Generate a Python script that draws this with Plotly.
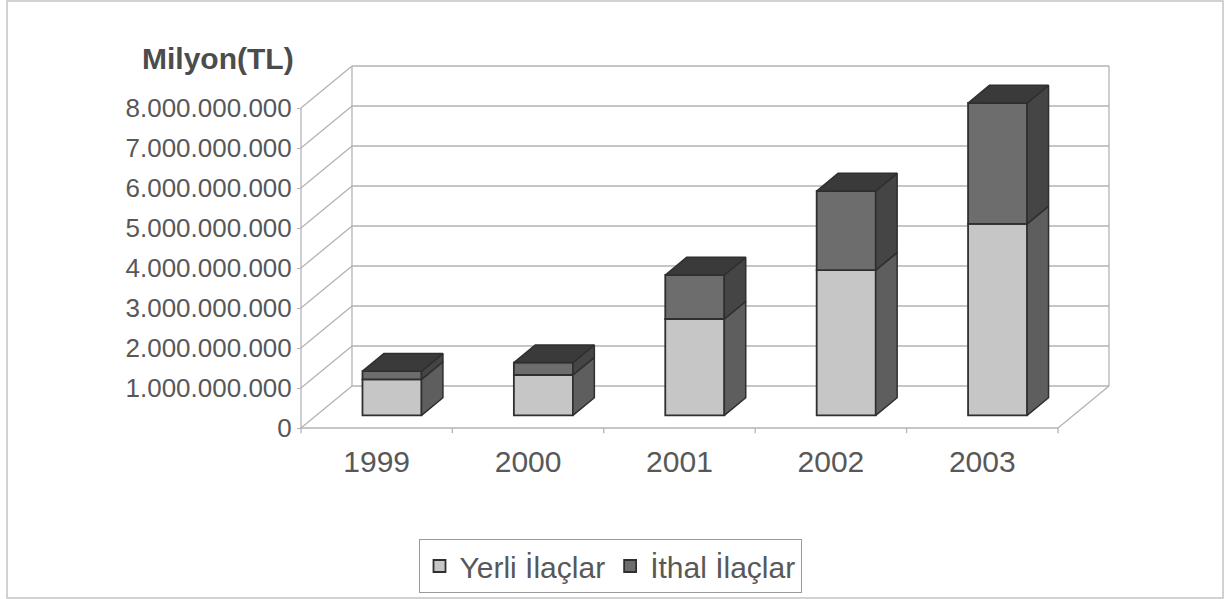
import plotly.graph_objects as go

# ---- data ----
years = ["1999", "2000", "2001", "2002", "2003"]
yerli = [0.90e9, 1.01e9, 2.41e9, 3.63e9, 4.79e9]      # Yerli İlaçlar
ithal = [0.205e9, 0.31e9, 1.10e9, 1.98e9, 3.02e9]     # İthal İlaçlar
tick_vals = [0, 1e9, 2e9, 3e9, 4e9, 5e9, 6e9, 7e9, 8e9]
tick_text = ["0", "1.000.000.000", "2.000.000.000", "3.000.000.000", "4.000.000.000",
             "5.000.000.000", "6.000.000.000", "7.000.000.000", "8.000.000.000"]
names = ["Yerli İlaçlar", "İthal İlaçlar"]

# ---- pseudo-3D geometry (axis units) ----
W, H = 1229, 599
X_RANGE = [-2.488, 5.6295]
Y_RANGE = [-4.275e9, 10.7e9]
DX, DY = 0.3369, 1.05e9        # depth vector of the box (front -> back wall)
Z0, Z1 = 0.30, 0.72            # bar depth span as fraction of box depth
BW = 0.39                      # bar width in category units
VMAX = tick_vals[-1]
n = len(years)
xs = list(range(n))
x_lo, x_hi = -0.5, n - 0.5

FONT = "Liberation Sans, Arial, sans-serif"
GRID = "#b3b3b3"
EDGE = "#2f2f2f"
TXT = "#585858"
C_YERLI, C_YERLI_SIDE = "#c6c6c6", "#5e5e5e"
C_ITHAL, C_ITHAL_SIDE = "#6d6d6d", "#454545"
C_TOP = "#3a3a3a"

fig = go.Figure()

# walls / floor / gridlines as shapes below the traces
shapes = []
def line(x0, y0, x1, y1, color=GRID, width=1.3):
    shapes.append(dict(type="line", xref="x", yref="y", x0=x0, y0=y0, x1=x1, y1=y1,
                       line=dict(color=color, width=width), layer="below"))

for v in tick_vals:
    line(x_lo + DX, v + DY, x_hi + DX, v + DY)          # back wall gridline
    line(x_lo, v, x_lo + DX, v + DY)                    # side wall diagonal
line(x_lo, 0, x_lo, VMAX)                               # front vertical axis
line(x_lo + DX, DY, x_lo + DX, VMAX + DY)               # back wall left edge
line(x_hi + DX, DY, x_hi + DX, VMAX + DY)               # back wall right edge
line(x_lo, 0, x_hi, 0)                                  # floor front edge
line(x_hi, 0, x_hi + DX, DY)                            # floor right edge
for k in range(n + 1):
    xb = x_lo + k
    line(xb, 0, xb, -0.13e9)                            # category tick marks

# front faces (bars)
bx = [x + Z0 * DX for x in xs]
base_y = [Z0 * DY] * n
base_i = [y + Z0 * DY for y in yerli]
fig.add_trace(go.Bar(x=bx, y=yerli, base=base_y, width=BW, name=names[0],
                     marker=dict(color=C_YERLI, line=dict(color=EDGE, width=1.8)),
                     hoverinfo="skip"))
fig.add_trace(go.Bar(x=bx, y=ithal, base=base_i, width=BW, name=names[1],
                     marker=dict(color=C_ITHAL, line=dict(color=EDGE, width=1.8)),
                     hoverinfo="skip"))

# side and top faces
ddx, ddy = (Z1 - Z0) * DX, (Z1 - Z0) * DY
def side_poly(bottoms, tops):
    px, py = [], []
    for x, b, t in zip(bx, bottoms, tops):
        xr = x + BW / 2
        px += [xr, xr, xr + ddx, xr + ddx, xr, None]
        py += [b, t, t + ddy, b + ddy, b, None]
    return px, py

def top_poly(tops):
    px, py = [], []
    for x, t in zip(bx, tops):
        xl, xr = x - BW / 2, x + BW / 2
        px += [xl, xr, xr + ddx, xl + ddx, xl, None]
        py += [t, t, t + ddy, t + ddy, t, None]
    return px, py

tops_y = [b + y for b, y in zip(base_y, yerli)]
tops_i = [b + y for b, y in zip(base_i, ithal)]
for (bots, tps, col) in [(base_y, tops_y, C_YERLI_SIDE), (base_i, tops_i, C_ITHAL_SIDE)]:
    px, py = side_poly(bots, tps)
    fig.add_trace(go.Scatter(x=px, y=py, mode="lines", fill="toself", fillcolor=col,
                             line=dict(color=EDGE, width=1.5), showlegend=False,
                             hoverinfo="skip"))
px, py = top_poly(tops_i)
fig.add_trace(go.Scatter(x=px, y=py, mode="lines", fill="toself", fillcolor=C_TOP,
                         line=dict(color=EDGE, width=1.5), showlegend=False,
                         hoverinfo="skip"))

# outer border
shapes.append(dict(type="rect", xref="paper", yref="paper",
                   x0=7 / W, x1=1223 / W, y0=1 - 598 / H, y1=1 - 1 / H,
                   line=dict(color="#c4c4c4", width=1.5), layer="below"))

fig.update_layout(
    width=W, height=H,
    margin=dict(l=0, r=0, t=0, b=0),
    paper_bgcolor="white", plot_bgcolor="white",
    barmode="overlay",
    shapes=shapes,
    hovermode=False,
    font=dict(family=FONT, color=TXT),
    xaxis=dict(range=X_RANGE, showgrid=False, zeroline=False, showline=False,
               tickvals=xs, ticktext=years, ticks="", anchor="free",
               position=1 - 428 / H, ticklabelstandoff=13, fixedrange=True,
               tickfont=dict(size=30, color=TXT, family=FONT)),
    yaxis=dict(range=Y_RANGE, showgrid=False, zeroline=False, showline=False,
               tickvals=tick_vals, ticktext=tick_text, ticks="outside", ticklen=4,
               tickcolor=GRID, anchor="free", position=301 / W, fixedrange=True,
               tickfont=dict(size=26, color=TXT, family=FONT)),
    legend=dict(orientation="h", x=610 / W, xanchor="center", y=1 - 539 / H, yanchor="top",
                bordercolor="#9a9a9a", borderwidth=1, bgcolor="white",
                font=dict(size=30, color=TXT, family=FONT),
                itemwidth=30, tracegroupgap=0),
    annotations=[dict(text="<b>Milyon(TL)</b>", xref="paper", yref="paper",
                      x=296 / W, y=1 - 58 / H, xanchor="right", yanchor="middle",
                      showarrow=False, font=dict(size=30, color="#4c4c4c", family=FONT))],
)

fig.write_html("out.html", config={"displayModeBar": False},
               post_script="document.body.style.margin='0px';")
